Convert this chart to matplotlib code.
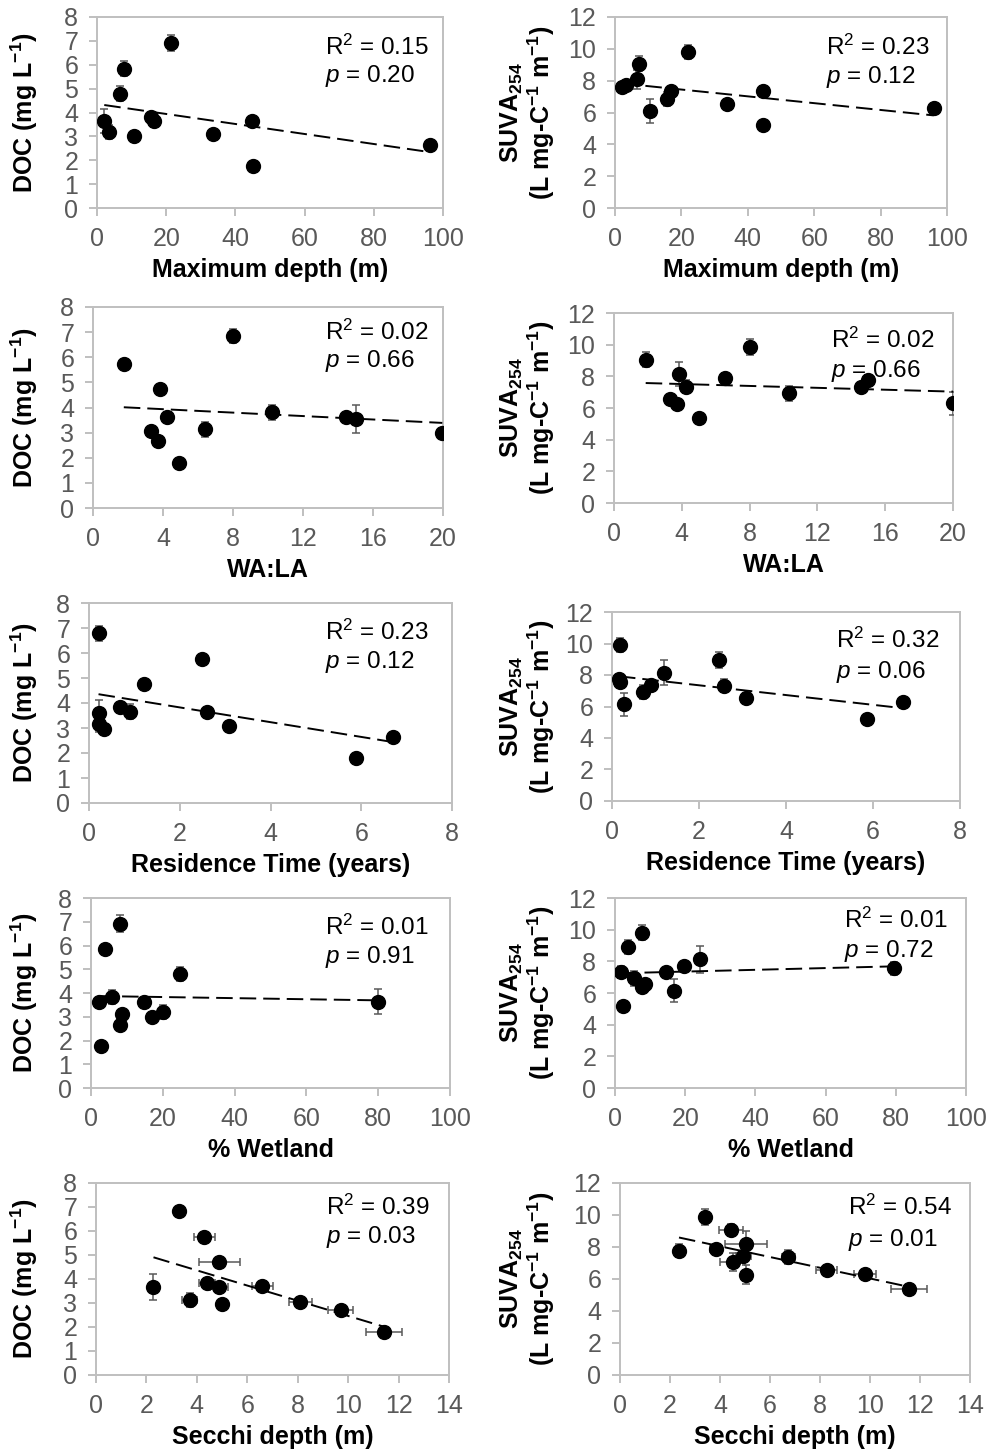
import numpy as np
import matplotlib.pyplot as plt

plt.rcParams["font.family"] = "Liberation Sans"
plt.rcParams["mathtext.fontset"] = "custom"
plt.rcParams["mathtext.rm"] = "Liberation Sans"
plt.rcParams["mathtext.it"] = "Liberation Sans:italic"
plt.rcParams["mathtext.bf"] = "Liberation Sans:bold"

# ---- dados por lago ----
# profundidade maxima (m)
maxdepth_doc_x = [2.1, 3.4, 6.6, 7.7, 10.6, 15.7, 16.6, 21.4, 33.5, 44.8, 45.0, 96.1]
maxdepth_doc_y = [3.63, 3.17, 4.79, 5.84, 3.00, 3.81, 3.63, 6.91, 3.10, 3.63, 1.77, 2.65]
maxdepth_doc_err = [0.5, 0.3, 0.3, 0.3, 0.1, 0.1, 0.25, 0.35, 0.1, 0.15, 0.05, 0.05]

maxdepth_suva_x = [2.1, 3.4, 6.6, 7.3, 10.6, 15.7, 16.9, 21.9, 33.7, 44.5, 44.5, 96.0]
maxdepth_suva_y = [7.60, 7.75, 8.10, 9.07, 6.11, 6.85, 7.33, 9.80, 6.53, 7.33, 5.21, 6.28]
maxdepth_suva_err = [0.2, 0.2, 0.6, 0.45, 0.75, 0.45, 0.3, 0.47, 0.15, 0.35, 0.1, 0.15]

# razao area da bacia : area do lago
wala_doc_x = [1.76, 3.34, 3.72, 3.85, 4.2, 4.92, 6.39, 8.0, 10.2, 14.47, 15.0, 19.96]
wala_doc_y = [5.73, 3.07, 2.65, 4.72, 3.64, 1.81, 3.13, 6.84, 3.81, 3.64, 3.54, 2.98]
wala_doc_err = [0.15, 0.1, 0.1, 0.1, 0.15, 0.05, 0.3, 0.28, 0.3, 0.1, 0.55, 0.1]

wala_suva_x = [1.87, 3.29, 3.74, 3.84, 4.24, 4.99, 6.52, 8.02, 10.3, 14.58, 14.98, 20.0]
wala_suva_y = [9.06, 6.55, 6.23, 8.14, 7.34, 5.35, 7.87, 9.86, 6.92, 7.34, 7.76, 6.29]
wala_suva_err = [0.45, 0.1, 0.1, 0.78, 0.42, 0.1, 0.35, 0.5, 0.5, 0.1, 0.35, 0.75]

# tempo de residencia (anos)
rt_doc_x = [0.21, 0.21, 0.21, 0.32, 0.69, 0.9, 1.21, 2.48, 2.59, 3.09, 5.89, 6.69]
rt_doc_y = [6.80, 3.59, 3.16, 2.98, 3.85, 3.65, 4.75, 5.77, 3.65, 3.08, 1.81, 2.65]
rt_doc_err = [0.3, 0.55, 0.3, 0.1, 0.1, 0.3, 0.1, 0.1, 0.15, 0.1, 0.05, 0.1]

rt_suva_x = [0.18, 0.16, 0.18, 0.27, 0.71, 0.9, 1.19, 2.47, 2.57, 3.07, 5.86, 6.68]
rt_suva_y = [9.93, 7.72, 7.58, 6.14, 6.92, 7.34, 8.15, 8.93, 7.32, 6.54, 5.23, 6.29]
rt_suva_err = [0.45, 0.3, 0.2, 0.72, 0.45, 0.2, 0.8, 0.5, 0.42, 0.3, 0.1, 0.15]

# % de area umida na bacia
wet_doc_x = [2.1, 2.7, 3.9, 5.9, 8.0, 8.0, 8.7, 14.7, 17.0, 20.1, 24.7, 80.0]
wet_doc_y = [3.64, 1.78, 5.85, 3.82, 6.92, 2.66, 3.12, 3.64, 3.00, 3.19, 4.80, 3.64]
wet_doc_err = [0.1, 0.05, 0.15, 0.3, 0.35, 0.1, 0.1, 0.15, 0.1, 0.3, 0.3, 0.53]

wet_suva_x = [1.7, 2.4, 3.6, 5.3, 7.7, 7.7, 8.6, 14.5, 16.7, 19.6, 24.2, 79.6]
wet_suva_y = [7.34, 5.20, 8.92, 6.92, 9.82, 6.36, 6.55, 7.34, 6.15, 7.70, 8.12, 7.55]
wet_suva_err = [0.38, 0.1, 0.45, 0.5, 0.45, 0.1, 0.15, 0.1, 0.72, 0.15, 0.85, 0.42]

# profundidade de Secchi (m), com erro em x
secchi_doc_x = [2.28, 3.31, 3.71, 4.30, 4.39, 4.89, 4.89, 4.99, 6.60, 8.11, 9.70, 11.41]
secchi_doc_xerr = [0.0, 0.15, 0.3, 0.43, 0.32, 0.81, 0.35, 0.1, 0.43, 0.46, 0.49, 0.72]
secchi_doc_y = [3.66, 6.84, 3.13, 5.77, 3.85, 4.70, 3.66, 2.96, 3.69, 3.03, 2.71, 1.81]
secchi_doc_err = [0.55, 0.15, 0.3, 0.1, 0.15, 0.1, 0.1, 0.1, 0.1, 0.1, 0.1, 0.05]

secchi_suva_x = [2.36, 3.40, 3.83, 4.43, 4.50, 4.93, 5.03, 5.03, 6.73, 8.26, 9.80, 11.55]
secchi_suva_xerr = [0.0, 0.15, 0.25, 0.47, 0.5, 0.3, 0.83, 0.1, 0.25, 0.43, 0.43, 0.73]
secchi_suva_y = [7.77, 9.87, 7.89, 9.08, 7.06, 7.45, 8.18, 6.26, 7.37, 6.58, 6.30, 5.39]
secchi_suva_err = [0.4, 0.5, 0.1, 0.38, 0.55, 0.2, 0.8, 0.6, 0.45, 0.15, 0.15, 0.15]

r2_text = ["0.15", "0.23", "0.02", "0.02", "0.23", "0.32", "0.01", "0.01", "0.39", "0.54"]
p_text = ["0.20", "0.12", "0.66", "0.66", "0.12", "0.06", "0.91", "0.72", "0.03", "0.01"]

xlabels = ["Maximum depth (m)", "WA:LA", "Residence Time (years)", "% Wetland", "Secchi depth (m)"]
xlims = [(0, 100, 20), (0, 20, 4), (0, 8, 2), (0, 100, 20), (0, 14, 2)]

DOC_LABEL = "DOC (mg L$^{\\mathbf{-1}}$)"
SUVA_LABEL = "SUVA$_{\\mathbf{254}}$\n(L mg-C$^{\\mathbf{-1}}$ m$^{\\mathbf{-1}}$)"

panels = [
    (maxdepth_doc_x, maxdepth_doc_y, maxdepth_doc_err, None),
    (maxdepth_suva_x, maxdepth_suva_y, maxdepth_suva_err, None),
    (wala_doc_x, wala_doc_y, wala_doc_err, None),
    (wala_suva_x, wala_suva_y, wala_suva_err, None),
    (rt_doc_x, rt_doc_y, rt_doc_err, None),
    (rt_suva_x, rt_suva_y, rt_suva_err, None),
    (wet_doc_x, wet_doc_y, wet_doc_err, None),
    (wet_suva_x, wet_suva_y, wet_suva_err, None),
    (secchi_doc_x, secchi_doc_y, secchi_doc_err, secchi_doc_xerr),
    (secchi_suva_x, secchi_suva_y, secchi_suva_err, secchi_suva_xerr),
]

# caixas dos eixos em pixels (esq, topo, dir, base) e posicao do texto R2/p
W, H = 992, 1454
boxes = [
    (97, 17, 443, 208), (615, 17, 947, 208),
    (93, 307, 443, 508), (614, 313, 953, 503),
    (89, 603, 452, 803), (612, 612, 960, 801),
    (91, 898, 450, 1088), (615, 898, 966, 1088),
    (96, 1183, 449, 1375), (620, 1183, 970, 1375),
]
stat_pos = [
    (0.66, 0.80, 0.66), (0.635, 0.80, 0.655),
    (0.663, 0.836, 0.70), (0.64, 0.816, 0.663),
    (0.65, 0.815, 0.675), (0.644, 0.81, 0.65),
    (0.652, 0.805, 0.66), (0.652, 0.842, 0.69),
    (0.652, 0.833, 0.69), (0.651, 0.833, 0.67),
]
YLAB_X = [24, 528]
XLAB_DROP = 62

fig = plt.figure(figsize=(W / 100, H / 100), dpi=100)

for i, (x, y, yerr, xerr) in enumerate(panels):
    l, t, r, b = boxes[i]
    ax = fig.add_axes([l / W, 1 - b / H, (r - l) / W, (b - t) / H])
    col = i % 2
    row = i // 2

    ax.errorbar(x, y, yerr=yerr, xerr=xerr, fmt="o", color="black", ms=10,
                ecolor="#595959", elinewidth=1.1, capsize=3, capthick=1.1, zorder=3)

    # linha de tendencia (minimos quadrados)
    slope, icept = np.polyfit(x, y, 1)
    xs = np.array([min(x), max(x)])
    ax.plot(xs, icept + slope * xs, color="black", lw=1.4,
            ls=(0, (8.5, 3.6)), zorder=4)

    x0, x1, xstep = xlims[row]
    ax.set_xlim(x0, x1)
    ax.set_xticks(np.arange(x0, x1 + xstep / 2, xstep))
    if col == 0:
        ax.set_ylim(0, 8)
        ax.set_yticks(np.arange(0, 9, 1))
    else:
        ax.set_ylim(0, 12)
        ax.set_yticks(np.arange(0, 13, 2))

    for s in ax.spines.values():
        s.set_color("#BFBFBF")
        s.set_linewidth(1.4)
    ax.tick_params(direction="out", length=5.5, width=1.4, color="#BFBFBF",
                   labelcolor="#595959", labelsize=18, pad=8)

    sx, sy1, sy2 = stat_pos[i]
    ax.text(sx, sy1, "R$^2$ = " + r2_text[i], transform=ax.transAxes,
            fontsize=17.5, va="baseline")
    ax.text(sx, sy2, "$p$ = " + p_text[i], transform=ax.transAxes,
            fontsize=17.5, va="baseline")

    ax.set_xlabel(xlabels[row], fontsize=18, fontweight="bold")
    ax.xaxis.set_label_coords(0.5, -XLAB_DROP / (b - t))
    ax.xaxis.label.set_va("center")

    ax.set_ylabel(DOC_LABEL if col == 0 else SUVA_LABEL, fontsize=18,
                  fontweight="bold", linespacing=1.05)
    ax.yaxis.set_label_coords((YLAB_X[col] - l) / (r - l), 0.5)
    ax.yaxis.label.set_va("center")

fig.savefig("out.png", dpi=100)
plt.close(fig)
